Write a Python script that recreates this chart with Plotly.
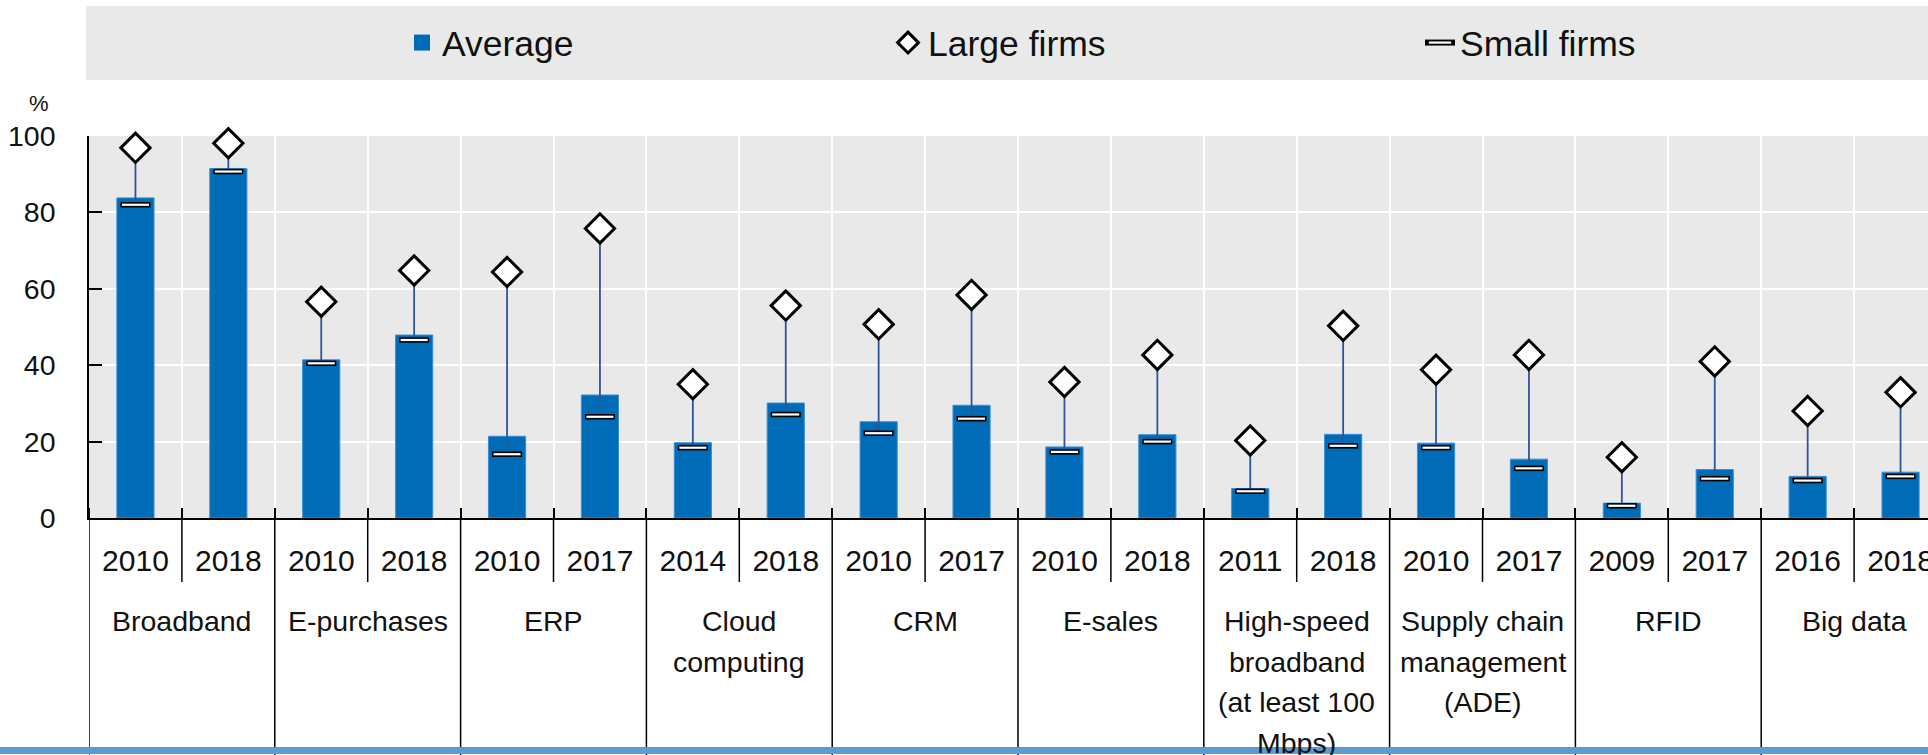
import plotly.graph_objects as go

# ---------------- data ----------------
technologies = ["Broadband", "E-purchases", "ERP", "Cloud<br>computing", "CRM", "E-sales",
                "High-speed<br>broadband<br>(at least 100<br>Mbps)",
                "Supply chain<br>management<br>(ADE)", "RFID", "Big data"]
years = ["2010", "2018", "2010", "2018", "2010", "2017", "2014", "2018", "2010", "2017",
         "2010", "2018", "2011", "2018", "2010", "2017", "2009", "2017", "2016", "2018"]
average = [83.8, 91.5, 41.4, 47.9, 21.4, 32.2, 19.7, 30.1, 25.2, 29.5,
           18.6, 21.8, 7.7, 21.9, 19.6, 15.4, 3.9, 12.7, 10.9, 12.0]
large_firms = [96.9, 98.1, 56.6, 64.8, 64.4, 75.8, 35.0, 55.6, 50.7, 58.4,
               35.6, 42.7, 20.3, 50.3, 38.8, 42.7, 15.9, 41.0, 28.0, 32.9]
small_firms = [82.0, 90.7, 40.5, 46.6, 16.7, 26.5, 18.4, 27.1, 22.2, 26.0,
               17.3, 20.0, 7.0, 18.9, 18.4, 13.0, 3.2, 10.3, 9.8, 10.9]
y_ticks = [0, 20, 40, 60, 80, 100]

# ---------------- geometry / style ----------------
W, H = 1928, 755
ML, MT = 89, 136
PLOT_BOTTOM = 518
MB = H - PLOT_BOTTOM
PW = W - ML
PH = PLOT_BOTTOM - MT
SLOT = 92.9
FONT = "Liberation Sans, Arial, sans-serif"
TXT = "#111111"
BLUE = "#006BB6"
STEM = "#2E5597"
CAT_LINE0 = 621     # centre of first category-label line (px from top)
CAT_LINE_GAP = 40.6

n = len(years)
xs = list(range(n))


def py(px):  # pixel y (from top) -> paper y
    return (PLOT_BOTTOM - px) / PH


def px_(x):  # pixel x -> paper x
    return (x - ML) / PW


fig = go.Figure()

fig.add_trace(go.Bar(
    x=xs, y=average, width=0.4, name="Average", showlegend=False,
    marker=dict(color=BLUE, line=dict(color="#3A8FD3", width=1)),
))
# legend entry for the bars (larger square than the default bar swatch)
fig.add_trace(go.Scatter(
    x=[None], y=[None], mode="markers", name="Average", legend="legend",
    marker=dict(symbol="square", size=16, color=BLUE),
))

fig.add_trace(go.Scatter(
    x=xs, y=large_firms, mode="markers", name="Large firms", legend="legend2",
    cliponaxis=False,
    marker=dict(symbol="diamond", size=22.5, color="white",
                line=dict(color="black", width=3)),
    error_y=dict(type="data", symmetric=False,
                 array=[0] * n,
                 arrayminus=[l - s for l, s in zip(large_firms, small_firms)],
                 color=STEM, thickness=1.8, width=0),
))

fig.add_trace(go.Scatter(
    x=xs, y=small_firms, mode="markers", showlegend=False, cliponaxis=False,
    marker=dict(symbol="line-ew", size=21.5, line=dict(color="black", width=5.5)),
))

# white inner part; isolated points so the line only shows in the legend
sx, sy = [], []
for xv, yv in zip(xs, small_firms):
    sx += [xv, None]
    sy += [yv, None]
fig.add_trace(go.Scatter(
    x=sx, y=sy, mode="lines+markers", name="Small firms", legend="legend3",
    connectgaps=False, cliponaxis=False,
    line=dict(color="black", width=6),
    marker=dict(symbol="line-ew", size=19.3, line=dict(color="white", width=2.2)),
))

shapes = []
# group separators (down to bottom) and year separators (short)
for i in range(n):
    b = i - 0.5
    y_end = py(H) if i % 2 == 0 else py(582)
    shapes.append(dict(type="line", xref="x", yref="paper", x0=b, x1=b,
                       y0=0, y1=y_end, line=dict(color="black", width=1.5)))
# legend band
shapes.append(dict(type="rect", xref="paper", yref="paper", x0=px_(86), x1=1.0,
                   y0=py(80), y1=py(6), fillcolor="#E9E9E9", line=dict(width=0),
                   layer="below"))
# bottom blue rule
shapes.append(dict(type="rect", xref="paper", yref="paper", x0=px_(0), x1=1.0,
                   y0=py(754), y1=py(747), fillcolor="#5B9BD5", line=dict(width=0),
                   layer="above"))

annotations = [dict(text="%", xref="paper", yref="paper", x=px_(39), y=py(103),
                    showarrow=False, font=dict(size=22, color=TXT, family=FONT),
                    xanchor="center", yanchor="middle")]
for g, name in enumerate(technologies):
    for k, line in enumerate(name.split("<br>")):
        annotations.append(dict(text=line, xref="x", yref="paper", x=2 * g + 0.5,
                                y=py(CAT_LINE0 + k * CAT_LINE_GAP), showarrow=False,
                                xanchor="center", yanchor="middle", align="center",
                                font=dict(size=28.5, color=TXT, family=FONT)))

legend_common = dict(orientation="h", bgcolor="rgba(0,0,0,0)", borderwidth=0,
                     font=dict(size=35.5, color=TXT, family=FONT),
                     yref="paper", y=py(43), yanchor="middle", xanchor="left")

fig.update_layout(
    width=W, height=H,
    margin=dict(l=ML, r=0, t=MT, b=MB, autoexpand=False),
    paper_bgcolor="white", plot_bgcolor="#E9E9E9",
    font=dict(family=FONT, color=TXT),
    barmode="overlay",
    showlegend=True,
    legend=dict(x=px_(402), **legend_common),
    legend2=dict(x=px_(888), **legend_common),
    legend3=dict(x=px_(1420), **legend_common),
    shapes=shapes,
    annotations=annotations,
    xaxis=dict(
        range=[-0.5, -0.5 + PW / SLOT],
        tickmode="array", tickvals=xs, ticktext=years,
        ticks="", showgrid=False, zeroline=False,
        showline=True, linecolor="black", linewidth=1.5,
        tickfont=dict(size=30, color=TXT, family=FONT),
        ticklabelstandoff=15, ticklabeloverflow="allow",
        minor=dict(tickmode="linear", tick0=0.5, dtick=1, ticks="inside",
                   ticklen=10, tickwidth=1.5, tickcolor="black",
                   showgrid=True, gridcolor="white", gridwidth=1.5),
        fixedrange=True,
    ),
    yaxis=dict(
        range=[0, 100], tickmode="array", tickvals=y_ticks,
        ticks="inside", ticklen=13, tickwidth=1.5, tickcolor="black",
        showline=True, linecolor="black", linewidth=1.5,
        showgrid=True, gridcolor="white", gridwidth=1.5, zeroline=False,
        tickfont=dict(size=28.5, color=TXT, family=FONT),
        ticklabelstandoff=26,
        fixedrange=True,
    ),
)

fig.write_html("out.html", config={"displayModeBar": False},
               post_script="document.body.style.margin='0';"
                           "document.body.style.overflow='hidden';")
